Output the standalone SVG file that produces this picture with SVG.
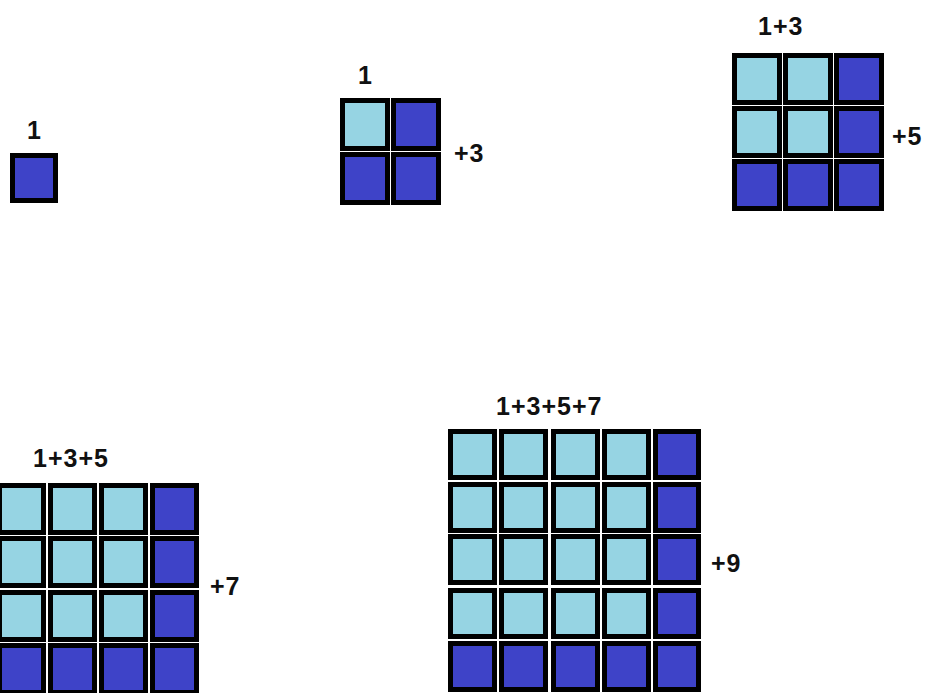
<svg xmlns="http://www.w3.org/2000/svg" width="929" height="693" viewBox="0 0 929 693">
<style>
.d{fill:#3e43c8;stroke:#000;stroke-width:5}
.l{fill:#96d4e3;stroke:#000;stroke-width:5}
.t{font-family:"Liberation Sans",Arial,sans-serif;font-weight:bold;font-size:25px;letter-spacing:1px;fill:#111}
</style>
<rect width="929" height="693" fill="#fff"/>
<g id="fig1">
<text class="t" x="27" y="139">1</text>
<rect class="d" x="12.5" y="155.5" width="43" height="45"/>
</g>
<g id="fig2">
<text class="t" x="358" y="84">1</text>
<rect class="l" x="342.5" y="100.5" width="45" height="48"/>
<rect class="d" x="393.5" y="100.5" width="45" height="48"/>
<rect class="d" x="342.5" y="154.5" width="45" height="48"/>
<rect class="d" x="393.5" y="154.5" width="45" height="48"/>
<text class="t" x="454" y="162">+3</text>
</g>
<g id="fig3">
<text class="t" x="758" y="35">1+3</text>
<rect class="l" x="734.5" y="55.5" width="45" height="47"/>
<rect class="l" x="785.5" y="55.5" width="45" height="47"/>
<rect class="d" x="836.5" y="55.5" width="45" height="47"/>
<rect class="l" x="734.5" y="108.5" width="45" height="47"/>
<rect class="l" x="785.5" y="108.5" width="45" height="47"/>
<rect class="d" x="836.5" y="108.5" width="45" height="47"/>
<rect class="d" x="734.5" y="161.5" width="45" height="47"/>
<rect class="d" x="785.5" y="161.5" width="45" height="47"/>
<rect class="d" x="836.5" y="161.5" width="45" height="47"/>
<text class="t" x="892" y="145">+5</text>
</g>
<g id="fig4">
<text class="t" x="33" y="467">1+3+5</text>
<rect class="l" x="-0.5" y="485.5" width="44" height="47"/>
<rect class="l" x="50.5" y="485.5" width="44" height="47"/>
<rect class="l" x="101.5" y="485.5" width="44" height="47"/>
<rect class="d" x="152.5" y="485.5" width="44" height="47"/>
<rect class="l" x="-0.5" y="538.5" width="44" height="47"/>
<rect class="l" x="50.5" y="538.5" width="44" height="47"/>
<rect class="l" x="101.5" y="538.5" width="44" height="47"/>
<rect class="d" x="152.5" y="538.5" width="44" height="47"/>
<rect class="l" x="-0.5" y="592.5" width="44" height="47"/>
<rect class="l" x="50.5" y="592.5" width="44" height="47"/>
<rect class="l" x="101.5" y="592.5" width="44" height="47"/>
<rect class="d" x="152.5" y="592.5" width="44" height="47"/>
<rect class="d" x="-0.5" y="645.5" width="44" height="47"/>
<rect class="d" x="50.5" y="645.5" width="44" height="47"/>
<rect class="d" x="101.5" y="645.5" width="44" height="47"/>
<rect class="d" x="152.5" y="645.5" width="44" height="47"/>
<text class="t" x="210" y="595">+7</text>
</g>
<g id="fig5">
<text class="t" x="496" y="415">1+3+5+7</text>
<rect class="l" x="450.5" y="431.5" width="44" height="46"/>
<rect class="l" x="501.5" y="431.5" width="44" height="46"/>
<rect class="l" x="553.5" y="431.5" width="44" height="46"/>
<rect class="l" x="604.5" y="431.5" width="44" height="46"/>
<rect class="d" x="655.5" y="431.5" width="43" height="46"/>
<rect class="l" x="450.5" y="484.5" width="44" height="46"/>
<rect class="l" x="501.5" y="484.5" width="44" height="46"/>
<rect class="l" x="553.5" y="484.5" width="44" height="46"/>
<rect class="l" x="604.5" y="484.5" width="44" height="46"/>
<rect class="d" x="655.5" y="484.5" width="43" height="46"/>
<rect class="l" x="450.5" y="536.5" width="44" height="46"/>
<rect class="l" x="501.5" y="536.5" width="44" height="46"/>
<rect class="l" x="553.5" y="536.5" width="44" height="46"/>
<rect class="l" x="604.5" y="536.5" width="44" height="46"/>
<rect class="d" x="655.5" y="536.5" width="43" height="46"/>
<rect class="l" x="450.5" y="590.5" width="44" height="46"/>
<rect class="l" x="501.5" y="590.5" width="44" height="46"/>
<rect class="l" x="553.5" y="590.5" width="44" height="46"/>
<rect class="l" x="604.5" y="590.5" width="44" height="46"/>
<rect class="d" x="655.5" y="590.5" width="43" height="46"/>
<rect class="d" x="450.5" y="643.5" width="44" height="46"/>
<rect class="d" x="501.5" y="643.5" width="44" height="46"/>
<rect class="d" x="553.5" y="643.5" width="44" height="46"/>
<rect class="d" x="604.5" y="643.5" width="44" height="46"/>
<rect class="d" x="655.5" y="643.5" width="43" height="46"/>
<text class="t" x="711" y="572">+9</text>
</g>
</svg>
